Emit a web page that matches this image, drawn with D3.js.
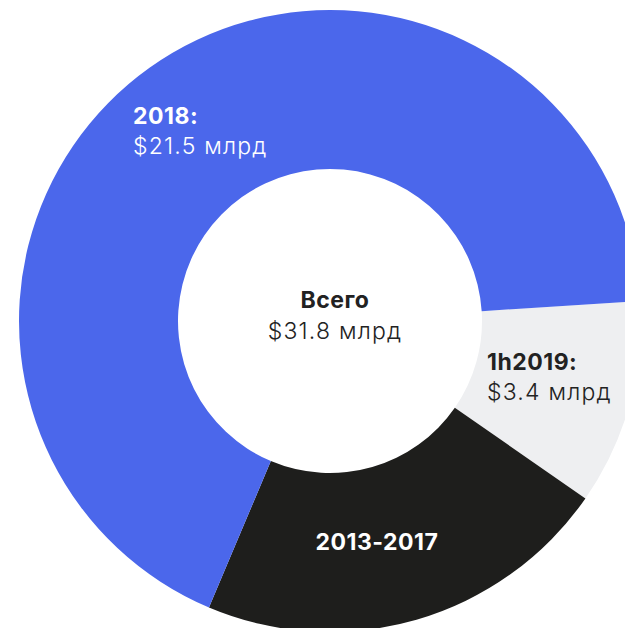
<!DOCTYPE html>
<html>
<head>
<meta charset="utf-8">
<script src="https://cdn.jsdelivr.net/npm/d3@7"></script>
<style>
  html, body { margin: 0; padding: 0; background: #fff; }
  svg { display: block; }
  text { font-family: "Inter", "DejaVu Sans", sans-serif; }
  .bold { font-weight: 700; letter-spacing: 0.5px; }
  .light { font-weight: 300; letter-spacing: 1.2px; }
</style>
</head>
<body>
<svg id="chart" width="625" height="628"></svg>
<script>
// Investment volume by period, $ bn
const periods = ["1h2019", "2013-2017", "2018"];
const amounts = [3.4, 6.9, 21.5];
const colors = ["#eeeff1", "#1e1e1c", "#4b67eb"];
const totalLabel = "Всего";
const unit = "млрд";

const cx = 330, cy = 321;
const outerR = 311, innerR = 152;
const startDeg = 86.3;
const fontSize = 23;

const svg = d3.select("#chart");
const g = svg.append("g").attr("transform", `translate(${cx},${cy})`);

const data = periods.map((p, i) => ({ period: p, value: amounts[i], color: colors[i] }));

const pie = d3.pie()
  .sort(null)
  .value(d => d.value)
  .startAngle(startDeg * Math.PI / 180)
  .endAngle(startDeg * Math.PI / 180 + 2 * Math.PI);

const arc = d3.arc().innerRadius(innerR).outerRadius(outerR);

g.selectAll("path.slice")
  .data(pie(data))
  .join("path")
  .attr("class", "slice")
  .attr("d", arc)
  .attr("fill", d => d.data.color);

const fmt = v => `$${d3.format(".1f")(v)} ${unit}`;
const total = d3.sum(amounts);

// Centre caption
g.append("text")
  .attr("class", "bold")
  .attr("x", 5).attr("y", -13)
  .attr("text-anchor", "middle")
  .attr("font-size", fontSize).attr("fill", "#222")
  .text(totalLabel);
g.append("text")
  .attr("class", "light")
  .attr("x", 5).attr("y", 18)
  .attr("text-anchor", "middle")
  .attr("font-size", fontSize).attr("fill", "#222")
  .text(fmt(total));

// Slice captions
const labelLayout = {
  "2018":      { x: 133, y: 124, anchor: "start",  fill: "#fff", showValue: true },
  "1h2019":    { x: 487, y: 370, anchor: "start",  fill: "#222", showValue: true },
  "2013-2017": { x: 377, y: 550, anchor: "middle", fill: "#fff", showValue: false }
};

data.forEach(d => {
  const L = labelLayout[d.period];
  const t = svg.append("text")
    .attr("x", L.x).attr("y", L.y)
    .attr("text-anchor", L.anchor)
    .attr("fill", L.fill)
    .attr("font-size", fontSize);
  t.append("tspan").attr("class", "bold")
    .text(L.showValue ? d.period + ":" : d.period);
  if (L.showValue) {
    t.append("tspan").attr("class", "light")
      .attr("x", L.x).attr("dy", 30)
      .text(fmt(d.value));
  }
});
</script>
</body>
</html>
